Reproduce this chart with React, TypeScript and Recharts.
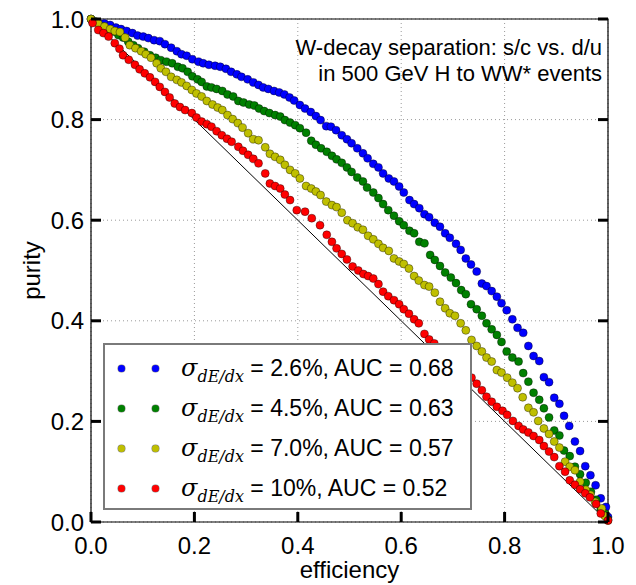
import React from 'react';
import {
  ScatterChart, Scatter, XAxis, YAxis, CartesianGrid, ReferenceLine, ReferenceArea, Legend, Label,
} from 'recharts';

// efficiency / purity, one pair of arrays per dE/dx resolution
const blueEff = [
  0.000, 0.003, 0.014, 0.026, 0.037, 0.048, 0.058, 0.069, 0.080, 0.090, 0.101, 0.111, 0.122, 0.133, 0.143,
  0.155, 0.166, 0.175, 0.185, 0.196, 0.208, 0.217, 0.228, 0.240, 0.250, 0.261, 0.271, 0.282, 0.291, 0.303,
  0.314, 0.324, 0.333, 0.343, 0.354, 0.364, 0.374, 0.384, 0.393, 0.404, 0.414, 0.425, 0.435, 0.444, 0.455,
  0.464, 0.474, 0.485, 0.495, 0.504, 0.515, 0.526, 0.535, 0.546, 0.556, 0.565, 0.576, 0.586, 0.596, 0.605,
  0.616, 0.625, 0.635, 0.645, 0.654, 0.665, 0.675, 0.685, 0.694, 0.706, 0.715, 0.725, 0.735, 0.746, 0.756,
  0.765, 0.775, 0.785, 0.794, 0.804, 0.815, 0.825, 0.836, 0.846, 0.856, 0.867, 0.876, 0.886, 0.896, 0.906,
  0.915, 0.925, 0.936, 0.946, 0.956, 0.966, 0.976, 0.986, 0.996, 1.000,
];
const bluePur = [
  1.000, 0.995, 0.993, 0.991, 0.988, 0.983, 0.980, 0.976, 0.972, 0.967, 0.965, 0.962, 0.958, 0.956, 0.950,
  0.943, 0.936, 0.930, 0.927, 0.920, 0.915, 0.912, 0.909, 0.907, 0.905, 0.901, 0.895, 0.890, 0.885, 0.880,
  0.874, 0.869, 0.864, 0.861, 0.857, 0.854, 0.850, 0.844, 0.838, 0.829, 0.822, 0.815, 0.807, 0.799, 0.787,
  0.786, 0.779, 0.769, 0.761, 0.753, 0.743, 0.733, 0.723, 0.712, 0.705, 0.693, 0.683, 0.677, 0.667, 0.655,
  0.640, 0.632, 0.624, 0.612, 0.606, 0.595, 0.587, 0.574, 0.565, 0.553, 0.541, 0.524, 0.512, 0.498, 0.474,
  0.469, 0.459, 0.448, 0.435, 0.421, 0.403, 0.386, 0.376, 0.350, 0.330, 0.320, 0.288, 0.278, 0.247, 0.235,
  0.211, 0.191, 0.160, 0.141, 0.111, 0.093, 0.073, 0.047, 0.030, 0.010,
];

const greenEff = [
  0.000, 0.008, 0.024, 0.034, 0.043, 0.053, 0.062, 0.072, 0.082, 0.091, 0.103, 0.114, 0.125, 0.135, 0.146,
  0.157, 0.168, 0.177, 0.187, 0.196, 0.206, 0.214, 0.224, 0.233, 0.243, 0.254, 0.264, 0.275, 0.285, 0.295,
  0.306, 0.316, 0.325, 0.335, 0.345, 0.356, 0.366, 0.375, 0.385, 0.395, 0.404, 0.416, 0.426, 0.435, 0.445,
  0.456, 0.466, 0.475, 0.485, 0.495, 0.504, 0.515, 0.526, 0.534, 0.546, 0.556, 0.565, 0.575, 0.586, 0.596,
  0.605, 0.616, 0.625, 0.635, 0.645, 0.656, 0.665, 0.675, 0.685, 0.696, 0.706, 0.716, 0.725, 0.735, 0.746,
  0.756, 0.765, 0.775, 0.785, 0.794, 0.804, 0.815, 0.827, 0.836, 0.846, 0.856, 0.867, 0.876, 0.886, 0.896,
  0.906, 0.915, 0.926, 0.936, 0.946, 0.957, 0.967, 0.977, 0.986, 0.994, 1.000,
];
const greenPur = [
  1.000, 0.995, 0.985, 0.978, 0.975, 0.968, 0.963, 0.955, 0.948, 0.942, 0.935, 0.928, 0.923, 0.918, 0.915,
  0.912, 0.905, 0.902, 0.895, 0.886, 0.880, 0.875, 0.866, 0.864, 0.861, 0.857, 0.850, 0.846, 0.837, 0.834,
  0.830, 0.828, 0.822, 0.817, 0.813, 0.809, 0.806, 0.799, 0.794, 0.789, 0.783, 0.774, 0.758, 0.750, 0.743,
  0.736, 0.728, 0.721, 0.714, 0.705, 0.696, 0.685, 0.677, 0.665, 0.655, 0.644, 0.632, 0.620, 0.609, 0.598,
  0.590, 0.579, 0.574, 0.557, 0.554, 0.531, 0.521, 0.509, 0.496, 0.486, 0.475, 0.461, 0.453, 0.433, 0.423,
  0.410, 0.395, 0.383, 0.372, 0.358, 0.339, 0.327, 0.319, 0.296, 0.279, 0.257, 0.243, 0.226, 0.208, 0.182,
  0.172, 0.142, 0.131, 0.110, 0.095, 0.078, 0.060, 0.044, 0.025, 0.017, 0.005,
];

const yellowEff = [
  0.000, 0.014, 0.026, 0.037, 0.046, 0.056, 0.066, 0.075, 0.086, 0.097, 0.106, 0.116, 0.127, 0.135, 0.145,
  0.155, 0.166, 0.175, 0.185, 0.195, 0.204, 0.214, 0.224, 0.235, 0.245, 0.254, 0.264, 0.274, 0.284, 0.293,
  0.304, 0.314, 0.324, 0.337, 0.346, 0.356, 0.366, 0.375, 0.385, 0.395, 0.404, 0.416, 0.426, 0.435, 0.444,
  0.455, 0.466, 0.475, 0.485, 0.496, 0.506, 0.516, 0.526, 0.536, 0.546, 0.556, 0.565, 0.576, 0.586, 0.596,
  0.605, 0.615, 0.625, 0.634, 0.645, 0.654, 0.665, 0.675, 0.685, 0.694, 0.704, 0.715, 0.725, 0.736, 0.746,
  0.756, 0.765, 0.775, 0.785, 0.794, 0.805, 0.815, 0.825, 0.835, 0.846, 0.856, 0.865, 0.876, 0.886, 0.896,
  0.906, 0.917, 0.926, 0.936, 0.946, 0.957, 0.966, 0.975, 0.988, 0.994, 1.000,
];
const yellowPur = [
  1.000, 0.991, 0.985, 0.980, 0.976, 0.974, 0.963, 0.948, 0.942, 0.936, 0.930, 0.923, 0.912, 0.902, 0.895,
  0.885, 0.879, 0.874, 0.867, 0.859, 0.852, 0.846, 0.837, 0.830, 0.824, 0.819, 0.809, 0.801, 0.793, 0.784,
  0.773, 0.761, 0.759, 0.745, 0.732, 0.726, 0.720, 0.710, 0.700, 0.693, 0.683, 0.668, 0.663, 0.657, 0.650,
  0.637, 0.630, 0.626, 0.615, 0.600, 0.594, 0.586, 0.581, 0.569, 0.562, 0.553, 0.545, 0.539, 0.524, 0.518,
  0.513, 0.504, 0.489, 0.480, 0.471, 0.468, 0.456, 0.438, 0.425, 0.415, 0.410, 0.395, 0.381, 0.362, 0.350,
  0.339, 0.327, 0.319, 0.302, 0.297, 0.287, 0.277, 0.266, 0.248, 0.227, 0.218, 0.201, 0.186, 0.175, 0.160,
  0.148, 0.120, 0.110, 0.103, 0.080, 0.064, 0.054, 0.040, 0.027, 0.012, 0.003,
];

const redEff = [
  0.003, 0.014, 0.024, 0.034, 0.046, 0.055, 0.062, 0.073, 0.085, 0.094, 0.104, 0.114, 0.124, 0.133, 0.143,
  0.152, 0.162, 0.172, 0.182, 0.195, 0.204, 0.214, 0.224, 0.233, 0.243, 0.253, 0.263, 0.272, 0.285, 0.294,
  0.304, 0.314, 0.324, 0.337, 0.346, 0.356, 0.366, 0.375, 0.385, 0.398, 0.414, 0.427, 0.443, 0.456, 0.466,
  0.475, 0.485, 0.495, 0.506, 0.517, 0.527, 0.536, 0.546, 0.556, 0.565, 0.575, 0.586, 0.596, 0.605, 0.615,
  0.625, 0.634, 0.645, 0.654, 0.664, 0.674, 0.684, 0.694, 0.704, 0.714, 0.724, 0.736, 0.746, 0.756, 0.765,
  0.775, 0.785, 0.796, 0.805, 0.816, 0.827, 0.836, 0.846, 0.856, 0.867, 0.876, 0.886, 0.896, 0.906, 0.917,
  0.926, 0.936, 0.946, 0.956, 0.965, 0.977, 0.986, 1.000,
];
const redPur = [
  0.992, 0.978, 0.972, 0.965, 0.952, 0.941, 0.928, 0.919, 0.909, 0.900, 0.892, 0.884, 0.875, 0.865, 0.855,
  0.844, 0.832, 0.825, 0.819, 0.813, 0.804, 0.796, 0.791, 0.786, 0.777, 0.769, 0.762, 0.756, 0.746, 0.738,
  0.730, 0.722, 0.713, 0.693, 0.673, 0.668, 0.663, 0.651, 0.640, 0.620, 0.617, 0.604, 0.590, 0.571, 0.557,
  0.544, 0.533, 0.522, 0.508, 0.500, 0.493, 0.489, 0.484, 0.473, 0.458, 0.449, 0.441, 0.433, 0.423, 0.414,
  0.403, 0.395, 0.374, 0.363, 0.355, 0.345, 0.334, 0.323, 0.313, 0.304, 0.296, 0.287, 0.275, 0.262, 0.249,
  0.239, 0.229, 0.221, 0.213, 0.201, 0.191, 0.184, 0.178, 0.171, 0.163, 0.151, 0.140, 0.129, 0.111, 0.100,
  0.083, 0.074, 0.065, 0.057, 0.049, 0.036, 0.017, 0.003,
];

const sigmaLabels = ['2.6', '4.5', '7.0', '10'];
const aucLabels = ['0.68', '0.63', '0.57', '0.52'];
const xTicks = [0, 0.2, 0.4, 0.6, 0.8, 1.0];
const yTicks = [0, 0.2, 0.4, 0.6, 0.8, 1.0];

const toPoints = (xs: number[], ys: number[]) => xs.map((x, i) => ({ x, y: ys[i] }));

const series = [
  { key: 'blue', color: '#0000ff', data: toPoints(blueEff, bluePur) },
  { key: 'green', color: '#008000', data: toPoints(greenEff, greenPur) },
  { key: 'yellow', color: '#bfbf00', data: toPoints(yellowEff, yellowPur) },
  { key: 'red', color: '#ff0000', data: toPoints(redEff, redPur) },
];

const W = 636;
const H = 585;
const LEFT = 91;
const RIGHT = 608;
const TOP = 19;
const BOTTOM = 522;
const FONT = '"Liberation Sans", Arial, sans-serif';
const MATH = '"DejaVu Serif", "Liberation Serif", serif';

function XTick(props: any) {
  const { x, payload } = props;
  return (
    <g>
      <line x1={x} x2={x} y1={BOTTOM} y2={BOTTOM - 10} stroke="#000" strokeWidth={3} />
      <text x={x} y={554} textAnchor="middle" fontSize={24} fontFamily={FONT} fill="#000">
        {payload.value.toFixed(1)}
      </text>
    </g>
  );
}

function YTick(props: any) {
  const { y, payload } = props;
  return (
    <g>
      <line x1={LEFT} x2={LEFT + 10} y1={y} y2={y} stroke="#000" strokeWidth={3} />
      <line x1={RIGHT} x2={RIGHT - 10} y1={y} y2={y} stroke="#000" strokeWidth={3} />
      <text x={84} y={y + 8.5} textAnchor="end" fontSize={24} fontFamily={FONT} fill="#000">
        {payload.value.toFixed(1)}
      </text>
    </g>
  );
}

function Dot(color: string) {
  return (p: any) => (
    <circle cx={p.cx} cy={p.cy} r={4} fill={color} stroke="#000" strokeOpacity={0.55} strokeWidth={0.7} />
  );
}

function LegendBox() {
  return (
    <div
      style={{
        position: 'relative', width: 369, height: 167, boxSizing: 'border-box',
        border: '2px solid #7a7a7a', background: '#fff', fontFamily: FONT, color: '#000',
      }}
    >
      {series.map((s, i) => (
        <div key={s.key} style={{ position: 'absolute', left: 0, top: 3 + i * 40, width: 365, height: 40 }}>
          {[16, 50].map(cx => (
            <span
              key={cx}
              style={{
                position: 'absolute', left: cx - 3.5, top: 16.5, width: 7, height: 7, borderRadius: '50%',
                background: s.color, boxShadow: '0 0 0 0.5px rgba(0,0,0,0.5)',
              }}
            />
          ))}
          <span style={{ position: 'absolute', left: 76, top: 0, lineHeight: '40px', fontSize: 23, whiteSpace: 'nowrap' }}>
            <span style={{ fontFamily: MATH, fontStyle: 'italic', fontSize: 24 }}>σ</span>
            <span style={{ fontFamily: MATH, fontStyle: 'italic', fontSize: 16, position: 'relative', top: 6 }}>dE/dx</span>
            {` = ${sigmaLabels[i]}%, AUC = ${aucLabels[i]}`}
          </span>
        </div>
      ))}
    </div>
  );
}

export default function App() {
  return (
    <div style={{ position: 'absolute', left: 0, top: 0, width: W, height: H, background: '#fff' }}>
      <ScatterChart width={W} height={H} margin={{ top: TOP, right: W - RIGHT, bottom: 0, left: 0 }}>
        <CartesianGrid stroke="#9a9a9a" strokeDasharray="1 3" />
        <XAxis
          type="number" dataKey="x" domain={[0, 1]} ticks={xTicks} interval={0}
          axisLine={false} tickLine={false} tickSize={0} tickMargin={0} height={H - BOTTOM} tick={XTick}
        >
          <Label
            content={() => (
              <text x={(LEFT + RIGHT) / 2} y={578} textAnchor="middle" fontSize={24} fontFamily={FONT} fill="#000">
                efficiency
              </text>
            )}
          />
        </XAxis>
        <YAxis
          type="number" dataKey="y" domain={[0, 1]} ticks={yTicks} interval={0}
          axisLine={false} tickLine={false} tickSize={0} tickMargin={0} width={LEFT} tick={YTick}
        >
          <Label
            content={() => (
              <text
                x={0} y={0} transform={`translate(40 ${(TOP + BOTTOM) / 2}) rotate(-90)`}
                textAnchor="middle" fontSize={24} fontFamily={FONT} fill="#000"
              >
                purity
              </text>
            )}
          />
        </YAxis>
        <ReferenceLine segment={[{ x: 0, y: 1 }, { x: 1, y: 0 }]} stroke="#000" strokeWidth={1} ifOverflow="visible" />
        {series.map(s => (
          <Scatter
            key={s.key} name={s.key} data={s.data} fill={s.color}
            shape={Dot(s.color)} isAnimationActive={false}
          />
        ))}
        <ReferenceArea x1={0} x2={1} y1={0} y2={1} fill="none" fillOpacity={0} stroke="#000" strokeWidth={1.2} ifOverflow="visible" />
        <Legend
          layout="horizontal" verticalAlign="middle" align="center"
          content={() => <LegendBox />}
          wrapperStyle={{ left: 103, top: 343, width: 369, height: 167 }}
        />
      </ScatterChart>
      <div
        style={{
          position: 'absolute', right: W - 602, top: 35, textAlign: 'right', fontFamily: FONT,
          fontSize: 22, lineHeight: '26px', color: '#000', whiteSpace: 'nowrap',
        }}
      >
        <div>W-decay separation: s/c vs. d/u</div>
        <div>in 500 GeV H to WW* events</div>
      </div>
    </div>
  );
}
